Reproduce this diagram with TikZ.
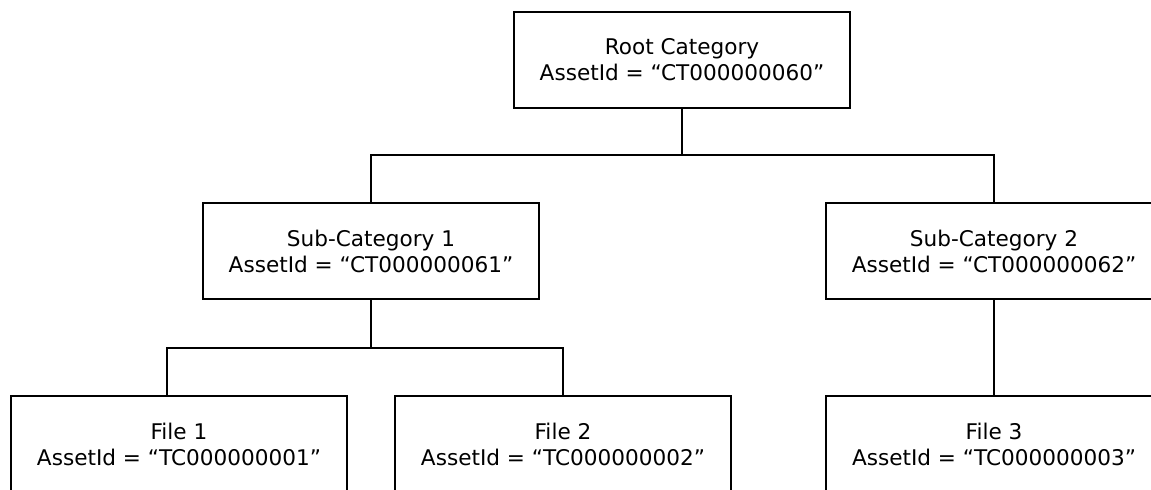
\documentclass[tikz,border=0pt]{standalone}
\usepackage{fontspec}
\setmainfont{DejaVu Sans}
\begin{document}
\begin{tikzpicture}[x=0.75pt,y=-0.75pt,
  box/.style={draw, line width=1.4pt, minimum width=252pt, minimum height=72pt,
    inner sep=0pt, outer sep=0pt, align=center, font=\fontsize{16.2}{19.5}\selectfont},
  conn/.style={line width=1.4pt}]
\useasboundingbox[fill=white] (0,0) rectangle (1151,489);
\clip (0,0) rectangle (1151,489);
\node[box] (root) at (682,60) {Root Category\\AssetId = “CT000000060”};
\node[box] (sc1) at (371,251) {Sub-Category 1\\AssetId = “CT000000061”};
\node[box] (sc2) at (994,251) {Sub-Category 2\\AssetId = “CT000000062”};
\node[box] (f1) at (179,444) {File 1\\AssetId = “TC000000001”};
\node[box] (f2) at (563,444) {File 2\\AssetId = “TC000000002”};
\node[box] (f3) at (994,444) {File 3\\AssetId = “TC000000003”};
\coordinate (j1) at (682,155);
\coordinate (j2) at (371,348);
\coordinate (f1top) at (167,396);
\draw[conn] (root.south) -- (j1);
\draw[conn] (sc1.north) |- (j1) -| (sc2.north);
\draw[conn] (sc1.south) -- (j2);
\draw[conn] (f1top) |- (j2) -| (f2.north);
\draw[conn] (sc2.south) -- (f3.north);
\end{tikzpicture}
\end{document}
